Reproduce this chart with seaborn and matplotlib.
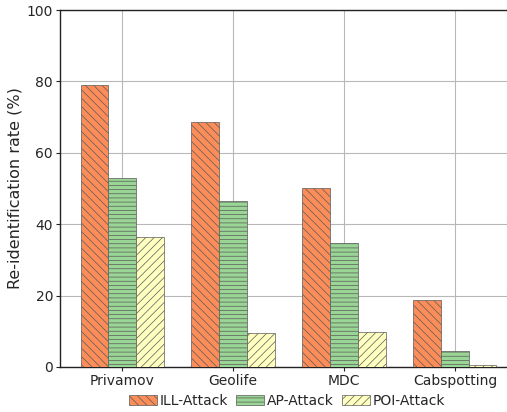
import matplotlib
matplotlib.use("Agg")
import matplotlib.pyplot as plt
from matplotlib.patches import Patch
import seaborn as sns
import pandas as pd

datasets = ["Privamov", "Geolife", "MDC", "Cabspotting"]
attacks = ["ILL-Attack", "AP-Attack", "POI-Attack"]
ill_values = [79.0, 68.6, 50.1, 18.8]
ap_values = [52.9, 46.5, 34.8, 4.5]
poi_values = [36.4, 9.5, 9.8, 0.5]
yticks = [0, 20, 40, 60, 80, 100]

colors = ["#fc8d59", "#99d594", "#ffffbf"]
hatches = ["\\\\\\\\", "----", "////"]

rows = []
for a, vals in zip(attacks, [ill_values, ap_values, poi_values]):
    for d, v in zip(datasets, vals):
        rows.append({"dataset": d, "attack": a, "rate": v})
df = pd.DataFrame(rows)

sns.set_style("white")
plt.rcParams["hatch.linewidth"] = 0.5
plt.rcParams["font.family"] = ["DejaVu Sans"]

edge = "#5a5a5a"
fig = plt.figure(figsize=(5.07, 4.12), dpi=100)
ax = fig.add_axes([60 / 507, 1 - 367 / 412, 457 / 507, 357 / 412])

sns.barplot(data=df, x="dataset", y="rate", hue="attack", order=datasets,
            hue_order=attacks, palette=colors, saturation=1, width=0.75, ax=ax,
            edgecolor=edge, linewidth=0.5, legend=False, zorder=3)

for cont, h in zip(ax.containers, hatches):
    for p in cont:
        p.set_hatch(h)
        p.set_edgecolor(edge)

ax.set_xlim(-0.56, 3.56)
ax.set_ylim(0, 100)
ax.set_yticks(yticks)
ax.set_xlabel("")
ax.set_ylabel("Re-identification rate (%)", fontsize=11.5, labelpad=3)
ax.grid(True, color="#b8b8b8", linewidth=0.8, zorder=0)
ax.set_axisbelow(True)
for s in ax.spines.values():
    s.set_color("#222222")
    s.set_linewidth(1.0)
ax.tick_params(axis="both", labelsize=10, length=3, color="#222222", direction="out",
               left=True, bottom=True, pad=2)

handles = [Patch(facecolor=c, edgecolor=edge, hatch=h, linewidth=0.5, label=a)
           for c, h, a in zip(colors, hatches, attacks)]
fig.legend(handles=handles, loc="center", bbox_to_anchor=(287 / 507, 1 - 401 / 412),
           ncol=3, frameon=False, fontsize=10, handlelength=2.0, handleheight=0.8,
           handletextpad=0.2, columnspacing=0.6)

fig.savefig("out.png", dpi=100)
